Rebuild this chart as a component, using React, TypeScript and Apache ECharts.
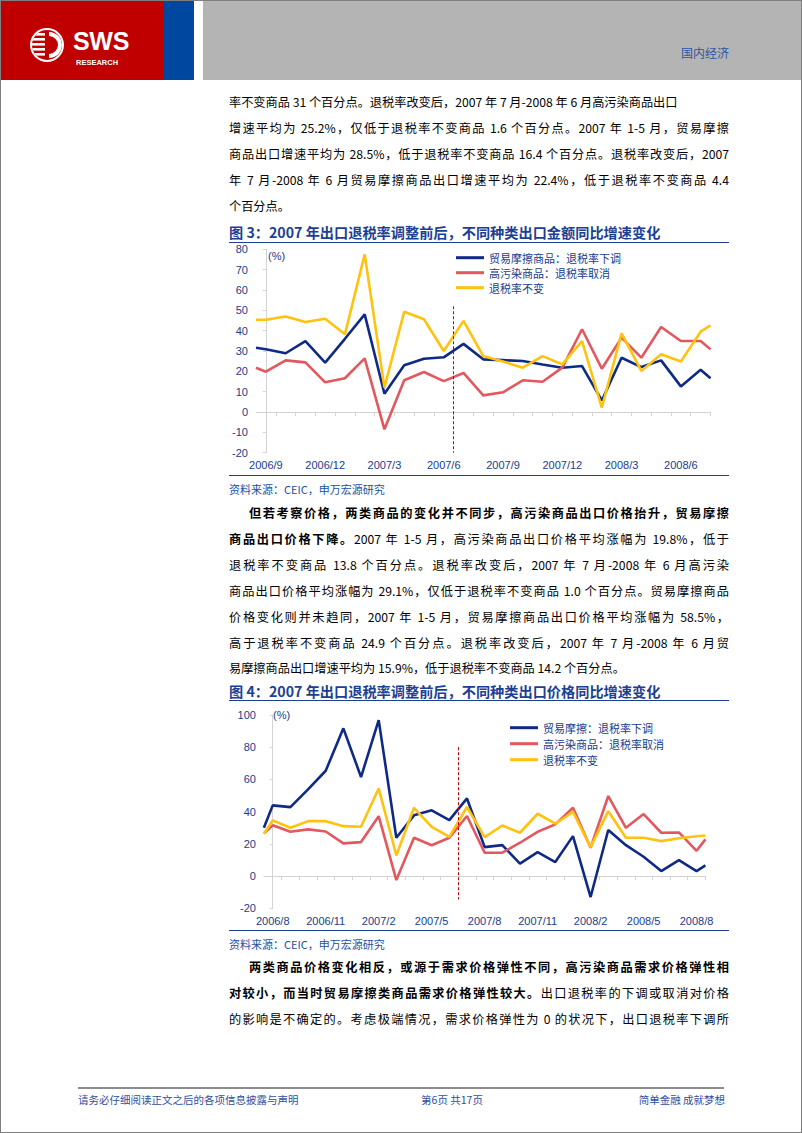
import React, { useEffect, useRef } from "react";
import * as echarts from "echarts";

// ---------- Chart data (figure 3: export value YoY growth, %) ----------
const fig3TickLabels = ["2006/9", "2006/12", "2007/3", "2007/6", "2007/9", "2007/12", "2008/3", "2008/6"];
const fig3Friction = [31.6, 30.9, 28.9, 34.9, 24.3, 36, 48, 9, 23, 26.2, 26.9, 33.5, 25.9, 25.5, 25.1, 23.4, 21.8, 22.6, 5.7, 26.7, 22.1, 25.4, 12.6, 20.8, 16.6];
const fig3Polluting = [21.8, 19.8, 25.4, 24.4, 14.6, 16.6, 26.4, -8.5, 15.6, 19.7, 15.2, 19.2, 8.2, 9.7, 15.6, 14.9, 21.8, 40.7, 21.3, 36.6, 26.7, 41.8, 34.9, 34.9, 30.8];
const fig3Unchanged = [45.4, 45.4, 47, 44.3, 45.9, 38.2, 77.5, 12, 49.3, 45.6, 30, 44.8, 27.5, 24.8, 21.8, 27.5, 23.4, 34.9, 2.1, 38.7, 20.2, 28.4, 24.8, 39.5, 42.6];
const fig3Names = ["贸易摩擦商品：退税率下调", "高污染商品：退税率取消", "退税率不变"];

// ---------- Chart data (figure 4: export price YoY growth, %) ----------
const fig4TickLabels = ["2006/8", "2006/11", "2007/2", "2007/5", "2007/8", "2007/11", "2008/2", "2008/5", "2008/8"];
const fig4Friction = [30, 43.9, 42.8, 53.8, 65.4, 91.7, 61.5, 96.8, 23.8, 37.7, 40.8, 34.7, 48.2, 18, 19.2, 7.7, 14.9, 8.7, 24.8, -13, 28.6, 19.2, 12, 3.1, 9.9, 3.1, 6.6];
const fig4Polluting = [26.5, 31.5, 27.5, 29, 27.7, 20.3, 21.1, 37.2, -2.5, 23.8, 19.1, 23.8, 37.3, 14.5, 14.5, 20.7, 27.5, 32.1, 42.4, 17.6, 49.7, 30, 38.5, 26.9, 27.1, 15.7, 22.8];
const fig4Unchanged = [26.3, 34.6, 30, 34.1, 34.1, 31, 30.6, 54.4, 12.8, 42.4, 30.5, 24.3, 42.9, 24.2, 31.4, 26.9, 38.7, 32.5, 39.9, 18, 40.3, 23.8, 23.8, 21.7, 23.5, 24.7, 25.2];
const fig4Names = ["贸易摩擦：退税率下调", "高污染商品：退税率取消", "退税率不变"];

const LINE_COLORS = ["#0F2A86", "#E2585E", "#FFC20E"];
const AXIS_TEXT = "#203C8C";
const TITLE_BLUE = "#1C3F94";
const SRC_BLUE = "#2150A3";
const CHART_FONT = '"Liberation Sans", "Noto Sans CJK SC", sans-serif';
const BODY_FONT = '"Noto Sans CJK SC", "Liberation Sans", sans-serif';

// month position of each sample: first/last samples sit half a month outside
const positions = (n: number) =>
  Array.from({ length: n }, (_, i) => (i === 0 ? -0.5 : i === n - 1 ? n - 2.5 : i - 1));

function buildOption(cfg: any) {
  const n = cfg.series[0].length;
  const xs = positions(n);
  const xMin = xs[0];
  const xMax = xs[n - 1];
  const labelValues = cfg.labels.map((_: string, i: number) => i * 3);
  const tickValues: number[] = [];
  for (let v = 0.5; v <= xMax + 1e-6; v += 1) tickValues.push(v);
  return {
    animation: false,
    textStyle: { fontFamily: CHART_FONT },
    grid: cfg.grid,
    legend: {
      orient: "vertical",
      left: cfg.legend.left,
      top: cfg.legend.top,
      icon: "rect",
      itemWidth: 28,
      itemHeight: 3,
      itemGap: cfg.legend.gap,
      textStyle: { fontSize: 11, color: AXIS_TEXT, fontFamily: BODY_FONT, lineHeight: 14 },
      data: cfg.names,
    },
    xAxis: [
      {
        type: "value",
        min: xMin,
        max: xMax,
        axisLine: { show: true, onZero: true, lineStyle: { color: "#D3D3D3", width: 1 } },
        axisTick: { show: true, customValues: tickValues, length: 4, lineStyle: { color: "#D3D3D3" } },
        axisLabel: { show: false },
        splitLine: { show: false },
      },
      {
        type: "value",
        min: xMin,
        max: xMax,
        position: "bottom",
        axisLine: { show: false, onZero: false },
        axisTick: { show: false },
        splitLine: { show: false },
        axisLabel: {
          customValues: labelValues,
          formatter: (v: number) => cfg.labels[Math.round(v / 3)] ?? "",
          color: AXIS_TEXT,
          fontSize: 11,
          margin: 7,
        },
      },
    ],
    yAxis: {
      type: "value",
      min: cfg.yMin,
      max: cfg.yMax,
      interval: cfg.yInterval,
      axisLine: { show: true, lineStyle: { color: "#D3D3D3" } },
      axisTick: { show: true, length: 3, lineStyle: { color: "#D3D3D3" } },
      splitLine: { show: false },
      axisLabel: { color: AXIS_TEXT, fontSize: 11, margin: 8 },
    },
    graphic: [
      {
        type: "text",
        left: cfg.pct.left,
        top: cfg.pct.top,
        style: { text: "(%)", fontSize: 11, fill: AXIS_TEXT, fontFamily: CHART_FONT },
      },
    ],
    series: cfg.series.map((vals: number[], si: number) => ({
      type: "line",
      name: cfg.names[si],
      xAxisIndex: 0,
      data: xs.map((x, i) => [x, vals[i]]),
      symbol: "none",
      lineStyle: { width: 2.6, color: LINE_COLORS[si] },
      itemStyle: { color: LINE_COLORS[si] },
      ...(si === 0
        ? {
            markLine: {
              silent: true,
              symbol: ["none", "none"],
              label: { show: false },
              lineStyle: { color: "#C00000", type: [3, 2], width: 1 },
              data: [[{ coord: [cfg.mark.x, cfg.mark.top] }, { coord: [cfg.mark.x, cfg.mark.bottom] }]],
            },
          }
        : {}),
    })),
  };
}

const option3 = buildOption({
  labels: fig3TickLabels,
  series: [fig3Friction, fig3Polluting, fig3Unchanged],
  names: fig3Names,
  yMin: -20,
  yMax: 80,
  yInterval: 10,
  grid: { left: 35, top: 6.3, width: 454.5, height: 203.4 },
  legend: { left: 230, top: 2.7, gap: 1 },
  pct: { left: 47, top: 7 },
  mark: { x: 9.5, top: 52, bottom: -20 },
});

const option4 = buildOption({
  labels: fig4TickLabels,
  series: [fig4Friction, fig4Polluting, fig4Unchanged],
  names: fig4Names,
  yMin: -20,
  yMax: 100,
  yInterval: 20,
  grid: { left: 42.9, top: 14, width: 441.5, height: 193.3 },
  legend: { left: 284, top: 14.7, gap: 2 },
  pct: { left: 52, top: 8 },
  mark: { x: 10.5, top: 80, bottom: -14.5 },
});

function EChart({ option, style }: { option: any; style: React.CSSProperties }) {
  const ref = useRef<HTMLDivElement>(null);
  useEffect(() => {
    const chart = echarts.init(ref.current!, null, { renderer: "svg" });
    chart.setOption(option);
    return () => chart.dispose();
  }, [option]);
  return <div ref={ref} style={style} />;
}

type Seg = [string, boolean?];

function TextLine({
  center,
  segs,
  justify = true,
  indent = false,
  size = 12.2,
  color = "#000",
  left = 228,
  width = 500,
}: {
  center: number;
  segs: Seg[];
  justify?: boolean;
  indent?: boolean;
  size?: number;
  color?: string;
  left?: number;
  width?: number;
}) {
  return (
    <div
      style={{
        position: "absolute",
        left,
        top: center - 9,
        width,
        height: 18,
        lineHeight: "18px",
        fontSize: size,
        color,
        fontFamily: BODY_FONT,
        textAlign: justify ? "justify" : "left",
        textAlignLast: justify ? "justify" : "left",
        textIndent: indent ? 20 : 0,
      }}
    >
      {segs.map((s, i) => (
        <span key={i} style={{ fontWeight: s[1] ? 700 : 400 }}>
          {s[0]}
        </span>
      ))}
    </div>
  );
}

const para1: Seg[][] = [
  [["率不变商品 31 个百分点。退税率改变后，2007 年 7 月-2008 年 6 月高污染商品出口"]],
  [["增速平均为 25.2%，仅低于退税率不变商品 1.6 个百分点。2007 年 1-5 月，贸易摩擦"]],
  [["商品出口增速平均为 28.5%，低于退税率不变商品 16.4 个百分点。退税率改变后，2007"]],
  [["年 7 月-2008 年 6 月贸易摩擦商品出口增速平均为 22.4%，低于退税率不变商品 4.4"]],
  [["个百分点。"]],
];
const para1Y = [101, 127, 153, 179, 205];

const para2: Seg[][] = [
  [["但若考察价格，两类商品的变化并不同步，高污染商品出口价格抬升，贸易摩擦", true]],
  [["商品出口价格下降。", true], ["2007 年 1-5 月，高污染商品出口价格平均涨幅为 19.8%，低于"]],
  [["退税率不变商品 13.8 个百分点。退税率改变后，2007 年 7 月-2008 年 6 月高污染"]],
  [["商品出口价格平均涨幅为 29.1%，仅低于退税率不变商品 1.0 个百分点。贸易摩擦商品"]],
  [["价格变化则并未趋同，2007 年 1-5 月，贸易摩擦商品出口价格平均涨幅为 58.5%，"]],
  [["高于退税率不变商品 24.9 个百分点。退税率改变后，2007 年 7 月-2008 年 6 月贸"]],
  [["易摩擦商品出口增速平均为 15.9%，低于退税率不变商品 14.2 个百分点。"]],
];
const para2Y = [512, 538, 564, 590, 616, 642, 667];

const para3: Seg[][] = [
  [["两类商品价格变化相反，或源于需求价格弹性不同，高污染商品需求价格弹性相", true]],
  [["对较小，而当时贸易摩擦类商品需求价格弹性较大。", true], ["出口退税率的下调或取消对价格"]],
  [["的影响是不确定的。考虑极端情况，需求价格弹性为 0 的状况下，出口退税率下调所"]],
];
const para3Y = [966, 992, 1018];

function Logo() {
  const stripes = [-12, -7, -2, 3, 8];
  return (
    <svg width={40} height={40} viewBox="-20 -20 40 40" style={{ position: "absolute", left: 26, top: 24 }}>
      <defs>
        <clipPath id="lh">
          <circle cx={0} cy={0} r={15} />
        </clipPath>
      </defs>
      <circle cx={0} cy={0} r={17} fill="#fff" />
      <g clipPath="url(#lh)">
        <rect x={-20} y={-20} width={40} height={40} fill="#C00000" />
        {stripes.map((y, i) => (
          <rect key={i} x={-16} y={y} width={14} height={2.6} fill="#fff" />
        ))}
        <path d="M2 -13 A13 13 0 0 1 2 13 L2 9 A9 9 0 0 0 2 -9 Z" fill="#fff" />
      </g>
    </svg>
  );
}

export default function App() {
  return (
    <div
      style={{
        position: "absolute",
        left: 0,
        top: 0,
        width: 802,
        height: 1133,
        background: "#fff",
        border: "1px solid #7f7f7f",
        boxSizing: "border-box",
        overflow: "hidden",
        fontFamily: BODY_FONT,
      }}
    >
      {/* header */}
      <div style={{ position: "absolute", left: 0, top: 0, width: 163, height: 79, background: "#C00000" }} />
      <div style={{ position: "absolute", left: 163, top: 0, width: 30, height: 79, background: "#0047A0" }} />
      <div style={{ position: "absolute", left: 202, top: 0, width: 600, height: 79, background: "#B4B4B4" }} />
      <Logo />
      <div
        style={{
          position: "absolute",
          left: 72,
          top: 28,
          height: 24,
          fontFamily: '"Liberation Sans", sans-serif',
          fontWeight: 700,
          fontSize: 25,
          color: "#fff",
          letterSpacing: -0.3,
          lineHeight: "24px",
        }}
      >
        SWS
      </div>
      <div
        style={{
          position: "absolute",
          left: 75,
          top: 58,
          height: 8,
          fontFamily: '"Liberation Sans", sans-serif',
          fontWeight: 700,
          fontSize: 7.5,
          color: "#fff",
          lineHeight: "8px",
        }}
      >
        RESEARCH
      </div>
      <div style={{ position: "absolute", left: 680, top: 44, fontSize: 12, color: "#2E54A1", lineHeight: "16px" }}>
        国内经济
      </div>

      {/* paragraph 1 */}
      {para1.map((segs, i) => (
        <TextLine key={"p1" + i} center={para1Y[i]} segs={segs} justify={i !== 0 && i !== para1.length - 1} />
      ))}

      {/* figure 3 */}
      <TextLine center={231} segs={[["图 3：2007 年出口退税率调整前后，不同种类出口金额同比增速变化", true]]} justify={false} size={14.2} color={TITLE_BLUE} />
      <div style={{ position: "absolute", left: 228, top: 240.5, width: 500, height: 1.5, background: "#1C3F94" }} />
      <EChart option={option3} style={{ position: "absolute", left: 220, top: 242, width: 510, height: 230 }} />
      <div style={{ position: "absolute", left: 228, top: 473.5, width: 500, height: 1.5, background: "#1C3F94" }} />
      <TextLine center={488} segs={[["资料来源：CEIC，申万宏源研究"]]} justify={false} size={11} color={SRC_BLUE} />

      {/* paragraph 2 */}
      {para2.map((segs, i) => (
        <TextLine key={"p2" + i} center={para2Y[i]} segs={segs} indent={i === 0} justify={i !== para2.length - 1} />
      ))}

      {/* figure 4 */}
      <TextLine center={690} segs={[["图 4：2007 年出口退税率调整前后，不同种类出口价格同比增速变化", true]]} justify={false} size={14.2} color={TITLE_BLUE} />
      <div style={{ position: "absolute", left: 228, top: 698.5, width: 500, height: 1.5, background: "#1C3F94" }} />
      <EChart option={option4} style={{ position: "absolute", left: 220, top: 700, width: 510, height: 228 }} />
      <div style={{ position: "absolute", left: 228, top: 928.5, width: 500, height: 1.5, background: "#1C3F94" }} />
      <TextLine center={943} segs={[["资料来源：CEIC，申万宏源研究"]]} justify={false} size={11} color={SRC_BLUE} />

      {/* paragraph 3 */}
      {para3.map((segs, i) => (
        <TextLine key={"p3" + i} center={para3Y[i]} segs={segs} indent={i === 0} justify={true} />
      ))}

      {/* footer */}
      <div style={{ position: "absolute", left: 77, top: 1086, width: 646, height: 2, background: "#8c8c8c" }} />
      <TextLine center={1099} segs={[["请务必仔细阅读正文之后的各项信息披露与声明"]]} justify={false} size={10.5} color="#2E4E9E" left={77} width={300} />
      <div style={{ position: "absolute", left: 351, top: 1090, width: 200, textAlign: "center", fontSize: 10.5, lineHeight: "18px", color: "#2E4E9E" }}>
        第6页 共17页
      </div>
      <div style={{ position: "absolute", left: 524, top: 1090, width: 200, textAlign: "right", fontSize: 10.5, lineHeight: "18px", color: "#2E4E9E" }}>
        简单金融 成就梦想
      </div>
    </div>
  );
}
